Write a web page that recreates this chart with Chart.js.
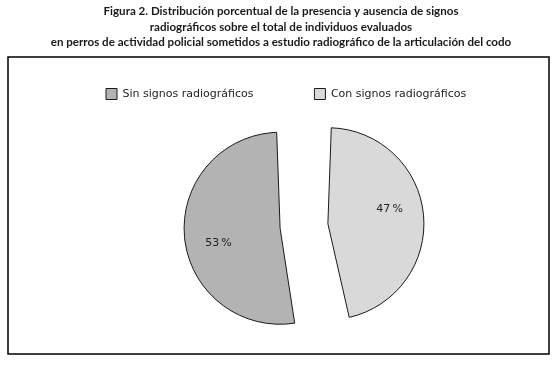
<!DOCTYPE html>
<html>
<head>
<meta charset="utf-8">
<script src="https://cdn.jsdelivr.net/npm/chart.js@4"></script>
<style>
  html, body { margin: 0; padding: 0; background: #fff; }
  #wrap { width: 558px; height: 369px; }
</style>
</head>
<body>
<div id="wrap"><canvas id="chart" width="558" height="369"></canvas></div>
<script>
// Data
const TITLE_LINES = [
  'Figura 2. Distribución porcentual de la presencia y ausencia de signos',
  'radiográficos sobre el total de individuos evaluados',
  'en perros de actividad policial sometidos a estudio radiográfico de la articulación del codo'
];
const LABELS = ['Sin signos radiográficos', 'Con signos radiográficos'];
const VALUES = [53, 47];
const COLORS = ['#b3b3b3', '#d9d9d9'];

const total = VALUES.reduce((a, b) => a + b, 0);

// frame + title drawn behind the chart
const framePlugin = {
  id: 'frame',
  beforeDraw(chart) {
    const ctx = chart.ctx;
    ctx.save();
    ctx.fillStyle = '#fff';
    ctx.fillRect(0, 0, chart.width, chart.height);
    ctx.strokeStyle = '#000';
    ctx.lineWidth = 1.5;
    ctx.strokeRect(8, 57, 541, 297);
    ctx.fillStyle = '#1a1a1a';
    ctx.font = 'bold 11.6px Lato';
    ctx.textAlign = 'center';
    ctx.textBaseline = 'middle';
    const ys = [11.5, 27, 42];
    TITLE_LINES.forEach((t, i) => ctx.fillText(t, 281, ys[i]));
    ctx.restore();
  }
};

// percentage labels inside slices
const pctPlugin = {
  id: 'pct',
  afterDatasetsDraw(chart) {
    const ctx = chart.ctx;
    const meta = chart.getDatasetMeta(0);
    ctx.save();
    ctx.fillStyle = '#222';
    ctx.font = '11px "DejaVu Sans"';
    ctx.textAlign = 'center';
    ctx.textBaseline = 'middle';
    meta.data.forEach((arc, i) => {
      const p = arc.getProps(['x', 'y', 'startAngle', 'endAngle', 'outerRadius']);
      const mid = (p.startAngle + p.endAngle) / 2;
      const off = (arc.options.offset || 0) / 4;
      const a = mid - 8 * Math.PI / 180;
      const r = 96 * 0.66;
      const x = p.x + Math.cos(mid) * off + Math.cos(a) * r;
      const y = p.y + Math.sin(mid) * off + Math.sin(a) * r;
      ctx.fillText(VALUES[i] + '\u202F%', x, y);
    });
    ctx.restore();
  }
};

new Chart(document.getElementById('chart'), {
  type: 'pie',
  data: {
    labels: LABELS,
    datasets: [{
      data: VALUES,
      backgroundColor: COLORS,
      borderColor: '#1a1a1a',
      borderWidth: 1,
      offset: [86, 106],
      radius: 74.5,
      clip: false
    }]
  },
  options: {
    responsive: false,
    devicePixelRatio: 1,
    animation: false,
    rotation: 360 * VALUES[1] / total,
    layout: { padding: { top: 27.5, left: 45, right: 0, bottom: 26 } },
    plugins: {
      legend: {
        position: 'top',
        align: 'start',
        labels: {
          boxWidth: 11,
          boxHeight: 11,
          padding: 61,
          color: '#222',
          font: { family: 'DejaVu Sans', size: 11 }
        }
      },
      title: { display: false },
      tooltip: { enabled: false }
    }
  },
  plugins: [framePlugin, pctPlugin]
});
</script>
</body>
</html>
